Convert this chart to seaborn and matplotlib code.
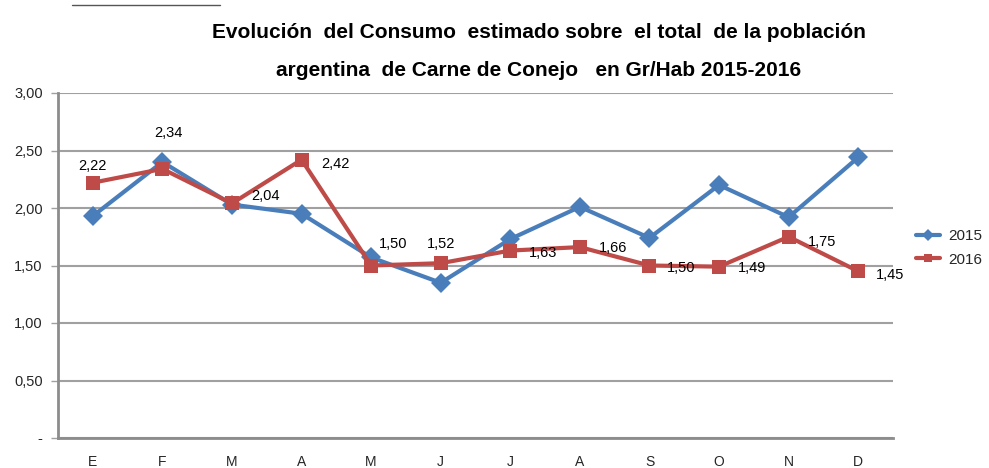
import matplotlib
matplotlib.use("Agg")
import matplotlib.pyplot as plt
import seaborn as sns
import pandas as pd
from matplotlib.lines import Line2D

months = ["E", "F", "M", "A", "M", "J", "J", "A", "S", "O", "N", "D"]
v2015 = [1.93, 2.40, 2.03, 1.95, 1.57, 1.35, 1.73, 2.01, 1.74, 2.20, 1.92, 2.44]
v2016 = [2.22, 2.34, 2.04, 2.42, 1.50, 1.52, 1.63, 1.66, 1.50, 1.49, 1.75, 1.45]
labels2016 = ["2,22", "2,34", "2,04", "2,42", "1,50", "1,52", "1,63", "1,66", "1,50", "1,49", "1,75", "1,45"]
yticks = [0, 0.5, 1.0, 1.5, 2.0, 2.5, 3.0]
yticklabels = ["-", "0,50", "1,00", "1,50", "2,00", "2,50", "3,00"]
title_lines = ["Evolución  del Consumo  estimado sobre  el total  de la población",
               "argentina  de Carne de Conejo   en Gr/Hab 2015-2016"]

sns.set_theme(style="white")
FONT = ["Liberation Sans", "DejaVu Sans"]
plt.rcParams["font.family"] = FONT

df = pd.DataFrame({
    "pos": list(range(12)) * 2,
    "valor": v2015 + v2016,
    "serie": ["2015"] * 12 + ["2016"] * 12,
})

blue = "#4A7EBB"
red = "#BE4B48"

fig = plt.figure(figsize=(9.89, 4.68), dpi=100)
ax = fig.add_axes([58 / 989, 30 / 468, (893 - 58) / 989, (438 - 93) / 468])

sns.lineplot(data=df, x="pos", y="valor", hue="serie", style="serie",
             palette={"2015": blue, "2016": red},
             markers={"2015": "D", "2016": "s"}, dashes=False,
             linewidth=3, markersize=10, markeredgewidth=0, ax=ax, legend=False)

ax.set_xlim(-0.5, 11.5)
ax.set_ylim(0, 3)
ax.set_yticks(yticks)
ax.set_yticklabels(yticklabels, fontsize=10.5)
ax.set_xticks(range(12))
ax.set_xticklabels(months, fontsize=10)
ax.set_xticks([i - 0.5 for i in range(13)], minor=True)
ax.tick_params(axis="x", which="major", length=0, pad=12)
ax.tick_params(axis="x", which="minor", length=5, width=1, color="#a0a0a0", direction="out")
ax.tick_params(axis="y", length=5, width=1, color="#a0a0a0", direction="out", pad=6, left=True)
ax.set_xlabel("")
ax.set_ylabel("")
ax.grid(axis="y", color="#a0a0a0", linewidth=1.5)
ax.set_axisbelow(True)
for s in ["top", "right"]:
    ax.spines[s].set_visible(False)
for s in ["left", "bottom"]:
    ax.spines[s].set_color("#8c8c8c")
    ax.spines[s].set_linewidth(2)

# data labels for 2016 (offsets in pixels -> points)
offs = [(0, 17), (6, 36), (34, 7), (34, -4), (22, 21), (0, 19),
        (33, -2), (33, -1), (32, -2), (33, -1), (33, -5), (32, -4)]
for i, (v, lab, (dx, dy)) in enumerate(zip(v2016, labels2016, offs)):
    ax.annotate(lab, (i, v), xytext=(dx * 0.72, dy * 0.72), textcoords="offset points",
                ha="center", va="center", fontsize=10.5, color="black")

fig.text(539 / 989, 1 - 33 / 468, title_lines[0], ha="center", va="center",
         fontsize=15, fontweight="bold", color="black")
fig.text(539 / 989, 1 - 70 / 468, title_lines[1], ha="center", va="center",
         fontsize=15, fontweight="bold", color="black")

handles = [Line2D([], [], color=blue, lw=3, marker="D", markersize=6, markeredgewidth=0),
           Line2D([], [], color=red, lw=3, marker="s", markersize=6, markeredgewidth=0)]
fig.legend(handles, ["2015", "2016"], loc="center left", bbox_to_anchor=(916 / 989, 1 - 248 / 468),
           frameon=False, fontsize=11, handlelength=1.6, handletextpad=0.5, labelspacing=0.6,
           borderpad=0, borderaxespad=0)

fig.add_artist(Line2D([72 / 989, 220 / 989], [1 - 5 / 468, 1 - 5 / 468], color="#555555", lw=1))

fig.savefig("out.png", dpi=100)
